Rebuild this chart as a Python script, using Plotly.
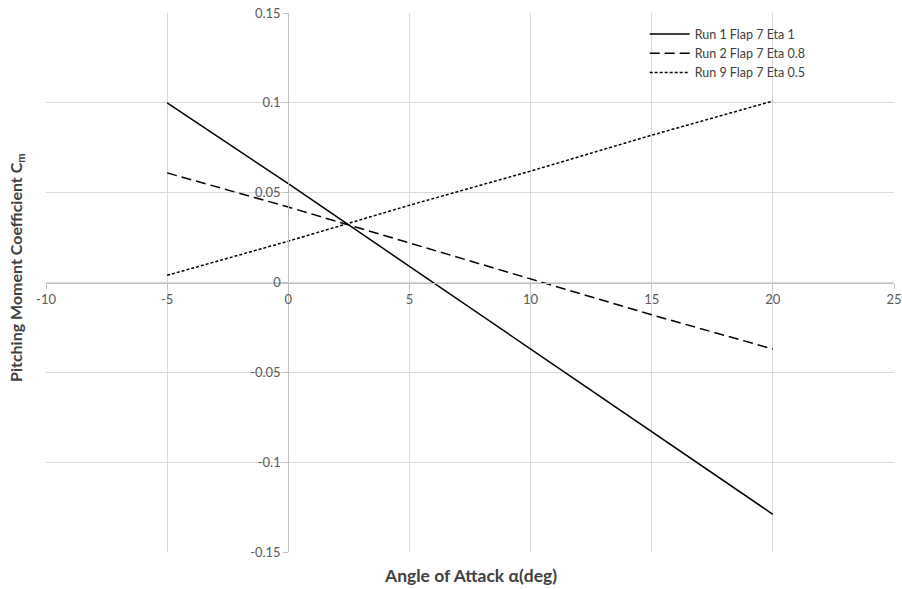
import plotly.graph_objects as go

alpha = [-5, 0, 5, 10, 15, 20]
run1 = [0.100, 0.055, 0.009, -0.037, -0.083, -0.129]
run2 = [0.061, 0.042, 0.022, 0.002, -0.018, -0.037]
run9 = [0.004, 0.023, 0.043, 0.062, 0.082, 0.101]
names = ["Run 1 Flap 7 Eta 1", "Run 2 Flap 7 Eta 0.8", "Run 9 Flap 7 Eta 0.5"]

x_ticks = [-10, -5, 0, 5, 10, 15, 20, 25]
x_ticktext = ["-10", "-5", "0", "5", "10", "15", "20", "25"]
y_ticks = [-0.15, -0.1, -0.05, 0, 0.05, 0.1, 0.15]
y_ticktext = ["-0.15", "-0.1", "-0.05", "0", "0.05", "0.1", "0.15"]

font = "Lato, 'Open Sans', sans-serif"

fig = go.Figure()
fig.add_trace(go.Scatter(x=alpha, y=run1, mode="lines", name=names[0],
                         line=dict(color="black", width=1.5, dash="solid")))
fig.add_trace(go.Scatter(x=alpha, y=run2, mode="lines", name=names[1],
                         line=dict(color="black", width=1.5, dash="10px,5px")))
fig.add_trace(go.Scatter(x=alpha, y=run9, mode="lines", name=names[2],
                         line=dict(color="black", width=1.5, dash="3px,2px")))

xr = [-10, 25]
yr = [-0.15, 0.15]

fig.update_layout(
    width=902, height=589,
    margin=dict(l=46, r=8, t=13, b=37, autoexpand=False),
    paper_bgcolor="white", plot_bgcolor="white",
    font=dict(family=font, size=13, color="#595959"),
    showlegend=True,
    legend=dict(x=0.706, y=0.988, xanchor="left", yanchor="top",
                bgcolor="rgba(0,0,0,0)", font=dict(size=12.5, color="#404040"),
                itemwidth=40, tracegroupgap=0),
    xaxis=dict(range=xr, tickvals=x_ticks, ticktext=x_ticktext, showgrid=True,
               gridcolor="#d9d9d9", gridwidth=1, zeroline=False, showline=True,
               linecolor="#bfbfbf", anchor="free",
               position=(0 - yr[0]) / (yr[1] - yr[0]), automargin=False,
               ticks="outside", ticklen=5, tickcolor="#bfbfbf",
               tickfont=dict(size=13, color="#595959")),
    yaxis=dict(range=yr, tickvals=y_ticks, ticktext=y_ticktext, showgrid=True,
               gridcolor="#d9d9d9", gridwidth=1, zeroline=False, showline=True,
               linecolor="#bfbfbf", anchor="free", automargin=False,
               position=(0 - xr[0]) / (xr[1] - xr[0]),
               ticks="outside", ticklen=5, tickcolor="#bfbfbf",
               tickfont=dict(size=13, color="#595959"))
)

fig.add_annotation(text="<b>Angle of Attack α(deg)</b>", xref="paper", yref="paper",
                   x=0.5, y=0, yshift=-23, xanchor="center", yanchor="middle",
                   showarrow=False, font=dict(size=17.5, color="#404040", family=font))
fig.add_annotation(text="<b>Pitching Moment Coefficient C<sub>m</sub></b>", xref="paper",
                   yref="paper", x=0, y=0.527, xshift=-29, xanchor="center", yanchor="middle",
                   textangle=-90, showarrow=False,
                   font=dict(size=16, color="#404040", family=font))

fig.write_html("out.html")
